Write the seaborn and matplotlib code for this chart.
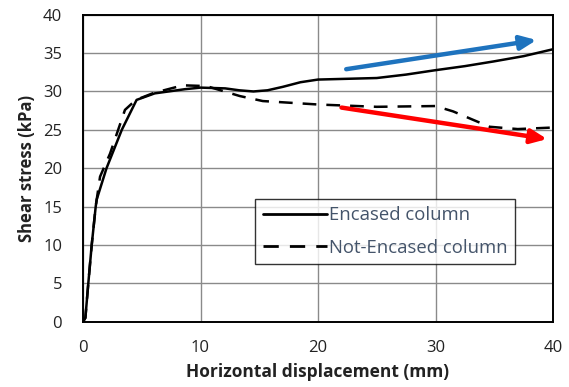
import numpy as np
import pandas as pd
import matplotlib
matplotlib.use("Agg")
import matplotlib.pyplot as plt
import seaborn as sns

# Direct shear test curves: horizontal displacement (mm) vs shear stress (kPa)
encased_x = [0.0, 0.2, 0.45, 0.74, 1.08, 1.16, 2.0, 3.3, 4.56, 6.1, 8.7, 10.0, 12.1,
             13.3, 14.5, 15.7, 17.0, 18.5, 20.0, 22.5, 25.0, 27.5, 29.9, 32.5, 34.9,
             37.5, 40.0]
encased_y = [0.0, 0.5, 5.0, 10.0, 15.0, 15.9, 20.0, 25.0, 28.9, 29.75, 30.3, 30.5, 30.4,
             30.15, 30.0, 30.15, 30.6, 31.2, 31.55, 31.65, 31.75, 32.2, 32.75, 33.3, 33.9,
             34.6, 35.5]

not_encased_x = [0.0, 0.2, 0.45, 0.74, 1.08, 1.45, 2.3, 3.57, 4.5, 6.0, 8.5, 10.5,
                 13.35, 15.3, 20.0, 25.0, 30.0, 31.5, 34.6, 37.0, 40.0]
not_encased_y = [0.0, 0.5, 5.0, 10.0, 15.0, 18.9, 21.9, 27.6, 28.9, 29.8, 30.8, 30.7,
                 29.4, 28.75, 28.3, 28.0, 28.1, 27.4, 25.4, 25.1, 25.3]

# Trend arrows (start -> end, in data units)
up_arrow = [(22.4, 32.9), (38.6, 36.7)]
down_arrow = [(22.0, 27.9), (39.5, 23.8)]

x_ticks = [0, 10, 20, 30, 40]
y_ticks = [0, 5, 10, 15, 20, 25, 30, 35, 40]

df = pd.concat([
    pd.DataFrame({"x": encased_x, "y": encased_y, "series": "Encased column"}),
    pd.DataFrame({"x": not_encased_x, "y": not_encased_y, "series": "Not-Encased column"}),
], ignore_index=True)

sns.set_theme(style="white")
plt.rcParams["font.family"] = ["Open Sans", "DejaVu Sans"]

fig = plt.figure(figsize=(5.69, 3.87), dpi=100)
ax = fig.add_axes([0.1459, 0.1687, 0.8260, 0.7933])

sns.lineplot(data=df, x="x", y="y", hue="series", style="series",
             palette={"Encased column": "black", "Not-Encased column": "black"},
             dashes={"Encased column": "", "Not-Encased column": (5.5, 4)},
             sort=False, estimator=None, linewidth=1.8, ax=ax, zorder=3)

ax.set_xlim(0, 40)
ax.set_ylim(0, 40)
ax.set_xticks(x_ticks)
ax.set_yticks(y_ticks)
ax.grid(True, color="#8a8a8a", linewidth=1.0)
ax.tick_params(axis="both", length=0, labelsize=12, colors="#222222")
ax.tick_params(axis="y", pad=15)
ax.tick_params(axis="x", pad=13)
for s in ax.spines.values():
    s.set_visible(True)
    s.set_color("black")
    s.set_linewidth(1.4)

ax.set_xlabel("Horizontal displacement (mm)", fontsize=12.5, fontweight="bold",
              color="#222222", labelpad=5)
ax.set_ylabel("Shear stress (kPa)", fontsize=12, fontweight="bold",
              color="#222222", labelpad=5)

for (start, end), col in [(up_arrow, "#1e73be"), (down_arrow, "#ff0000")]:
    ax.annotate("", xy=end, xytext=start,
                arrowprops=dict(arrowstyle="-|>,head_length=0.8,head_width=0.35",
                                color=col, lw=3.2, shrinkA=0, shrinkB=0),
                zorder=4)

leg = ax.legend(loc="upper left", bbox_to_anchor=(0.3668, 0.4009),
                fontsize=13.3, handlelength=3.5, handletextpad=0.1,
                labelspacing=0.8, frameon=True, fancybox=False,
                borderpad=0.4, borderaxespad=0)
leg.get_frame().set_edgecolor("black")
leg.get_frame().set_linewidth(1.0)
for t in leg.get_texts():
    t.set_color("#44546a")
for h in leg.get_lines():
    h.set_linewidth(2.0)

fig.savefig("out.png", dpi=100)
